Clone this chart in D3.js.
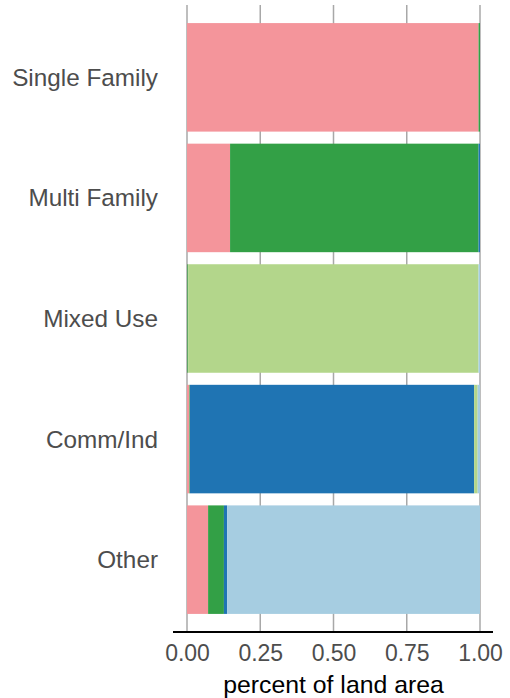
<!DOCTYPE html>
<html>
<head>
<meta charset="utf-8">
<script src="https://cdn.jsdelivr.net/npm/d3@7"></script>
<style>
  body { margin: 0; background: #fff; }
  svg { display: block; font-family: "Liberation Sans", Arial, Helvetica, sans-serif; }
</style>
</head>
<body>
<svg id="chart" width="510" height="698"></svg>
<script>
// Rows (bars), top to bottom
const categories = ["Single Family", "Multi Family", "Mixed Use", "Comm/Ind", "Other"];
// Stack series, left to right
const seriesKeys = ["Single Family", "Multi Family", "Comm/Ind", "Mixed Use", "Other"];
const seriesColors = ["#f4959b", "#33a046", "#1f74b3", "#b3d68b", "#a6cde1"];
// Share of each row's land area per series (same order as seriesKeys)
const singleFamilyShares = [0.995, 0.005, 0.000, 0.000, 0.000];
const multiFamilyShares  = [0.147, 0.848, 0.005, 0.000, 0.000];
const mixedUseShares     = [0.001, 0.003, 0.000, 0.991, 0.005];
const commIndShares      = [0.008, 0.002, 0.970, 0.012, 0.008];
const otherShares        = [0.072, 0.054, 0.011, 0.000, 0.863];
const xTicks = [0, 0.25, 0.5, 0.75, 1.0];
const xTitle = "percent of land area";

const rows = [singleFamilyShares, multiFamilyShares, mixedUseShares, commIndShares, otherShares];
const table = categories.map((c, i) => {
  const o = { category: c };
  seriesKeys.forEach((k, j) => o[k] = rows[i][j]);
  return o;
});

const svg = d3.select("#chart");
const x = d3.scaleLinear().domain([0, 1]).range([187, 480]);
const y = d3.scaleBand().domain(categories).range([5, 632]).paddingInner(0.1).paddingOuter(0.15);
const color = d3.scaleOrdinal().domain(seriesKeys).range(seriesColors);

// gridlines
svg.append("g").selectAll("line").data(xTicks).join("line")
  .attr("x1", d => x(d)).attr("x2", d => x(d))
  .attr("y1", 5).attr("y2", 632)
  .attr("stroke", "#a8a8a8").attr("stroke-width", 1.5);

const stack = d3.stack().keys(seriesKeys);
const stacked = stack(table);

svg.append("g").selectAll("g").data(stacked).join("g")
  .attr("fill", d => color(d.key))
  .selectAll("rect").data(d => d).join("rect")
  .attr("x", d => x(d[0]))
  .attr("width", d => Math.max(0, x(d[1]) - x(d[0])))
  .attr("y", d => y(d.data.category))
  .attr("height", y.bandwidth());

// y labels
svg.append("g").selectAll("text").data(categories).join("text")
  .attr("x", 158)
  .attr("y", d => y(d) + y.bandwidth() / 2)
  .attr("dy", "0.35em")
  .attr("text-anchor", "end")
  .attr("fill", "#4d4d4d")
  .attr("font-size", 24.3)
  .text(d => d);

// x axis
const xAxis = d3.axisBottom(x).tickValues(xTicks).tickFormat(d3.format(".2f")).tickSize(0).tickPadding(13);
const ax = svg.append("g").attr("transform", "translate(0,632)").call(xAxis);
ax.select(".domain").remove();
ax.selectAll("text").attr("fill", "#4d4d4d").attr("font-size", 23)
  .attr("font-family", "Liberation Sans, Arial, sans-serif");
svg.append("line").attr("x1", 173).attr("x2", 493).attr("y1", 632).attr("y2", 632)
  .attr("stroke", "#000").attr("stroke-width", 2);

svg.append("text")
  .attr("x", (x(0) + x(1)) / 2).attr("y", 693)
  .attr("text-anchor", "middle")
  .attr("fill", "#000")
  .attr("font-size", 24.8)
  .text(xTitle);
</script>
</body>
</html>
